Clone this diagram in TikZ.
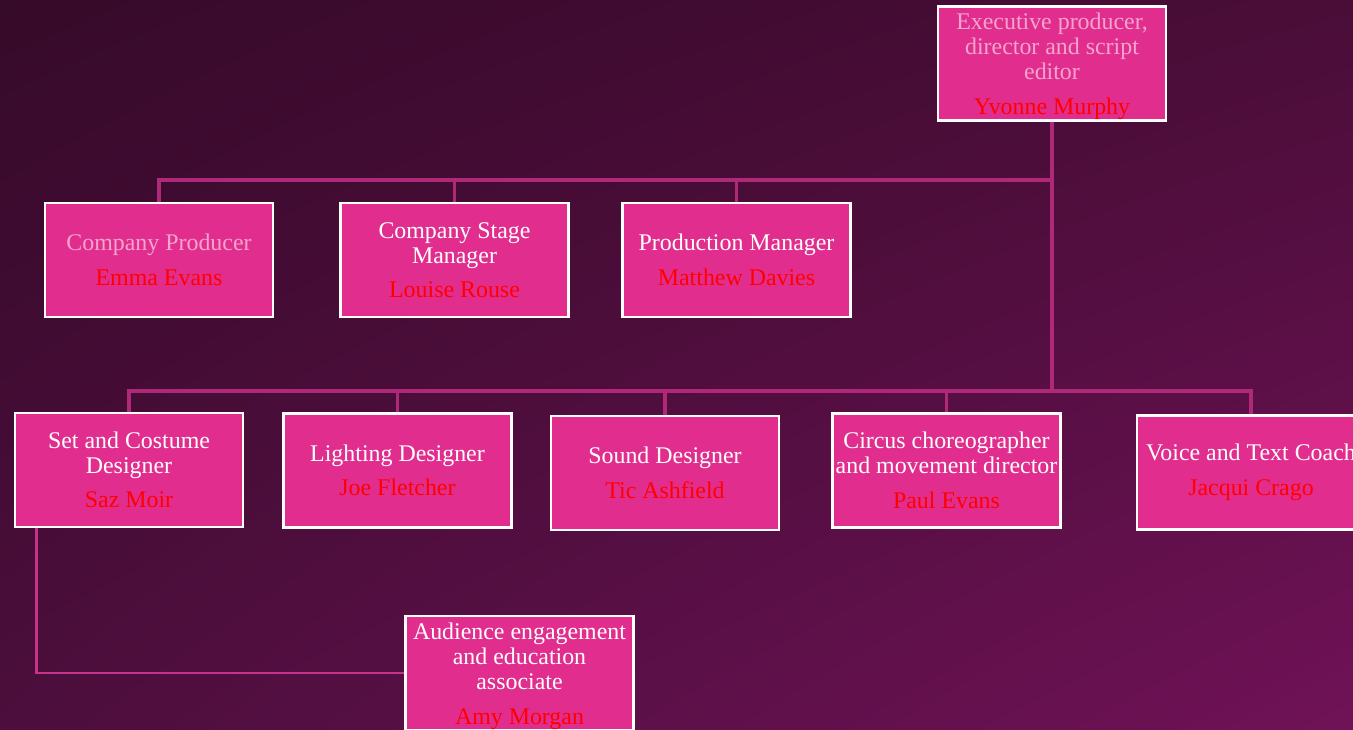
\documentclass[tikz,border=0pt]{standalone}
\usepackage{fontspec}
\setmainfont{Liberation Serif}
\usepackage{tikz}
\usetikzlibrary{calc,shadings}
\definecolor{BackTopLeft}{RGB}{54,10,41}
\definecolor{BackTopRight}{RGB}{74,13,56}
\definecolor{BackBottomLeft}{RGB}{76,14,60}
\definecolor{BackBottomRight}{RGB}{112,18,87}
\definecolor{BoxPink}{RGB}{225,46,142}
\definecolor{LinkPink}{RGB}{176,40,120}
\definecolor{LinkBright}{RGB}{200,50,136}
\definecolor{TitlePink}{RGB}{244,164,205}
\definecolor{NameRed}{RGB}{255,0,0}

\begin{document}
\begin{tikzpicture}[x=0.02cm, y=-0.02cm,
    rolebox/.style={draw=white, line width=1.4pt, fill=BoxPink, text=white,
      minimum width=4.56cm, minimum height=2.28cm, inner sep=0pt, align=center,
      font=\fontsize{13.6}{14.2}\selectfont},
    link/.style={LinkPink, line width=1.9pt}]
      \shade[upper left=BackTopLeft, upper right=BackTopRight,
        lower left=BackBottomLeft, lower right=BackBottomRight] (0,0) rectangle (1353,730);
      \useasboundingbox (0,0) rectangle (1353,730);
      % buses
      \coordinate (upperbus) at (1052,180);
      \coordinate (lowerbus) at (1052,391);
      % boxes
      \node[rolebox, text=TitlePink] (exec) at (1052,63.5) {\rule{0pt}{12.5pt}Executive producer,\\director and script\\editor\\[5.4pt]\textcolor{NameRed}{Yvonne Murphy}};
      \node[rolebox, text=TitlePink] (producer) at (159,260) {Company Producer\\[5.4pt]\textcolor{NameRed}{Emma Evans}};
      \node[rolebox] (stagemgr) at (454.5,260) {Company Stage\\Manager\\[5.4pt]\textcolor{NameRed}{Louise Rouse}};
      \node[rolebox] (prodmgr) at (736.5,260) {Production Manager\\[5.4pt]\textcolor{NameRed}{Matthew Davies}};
      \node[rolebox] (setdesign) at (129,470) {Set and Costume\\Designer\\[5.4pt]\textcolor{NameRed}{Saz Moir}};
      \node[rolebox] (lighting) at (397.5,470.5) {Lighting Designer\\[5.4pt]\textcolor{NameRed}{Joe Fletcher}};
      \node[rolebox] (sound) at (665,473) {Sound Designer\\[5.4pt]\textcolor{NameRed}{Tic Ashfield}};
      \node[rolebox] (circus) at (946.5,470.5) {Circus choreographer\\and movement director\\[5.4pt]\textcolor{NameRed}{Paul Evans}};
      \node[rolebox] (voice) at (1251,472.5) {Voice and Text Coach\\[5.4pt]\textcolor{NameRed}{Jacqui Crago}};
      \node[rolebox] (audience) at (519.5,673) {\rule{0pt}{13pt}Audience engagement\\and education\\associate\\[5.4pt]\textcolor{NameRed}{Amy Morgan}};
      % links
      \draw[link] (exec.south) -- (lowerbus);
      \foreach \child in {producer, stagemgr, prodmgr}
        \draw[link] (upperbus) -| (\child.north);
      \foreach \child in {setdesign, lighting, sound, circus, voice}
        \draw[link] (lowerbus) -| (\child.north);
      \coordinate (setfoot) at ($(setdesign.south west)+(23,0)$);
      \draw[LinkBright, line width=1.5pt] (setfoot) |- (audience.west);
    \end{tikzpicture}
\end{document}
